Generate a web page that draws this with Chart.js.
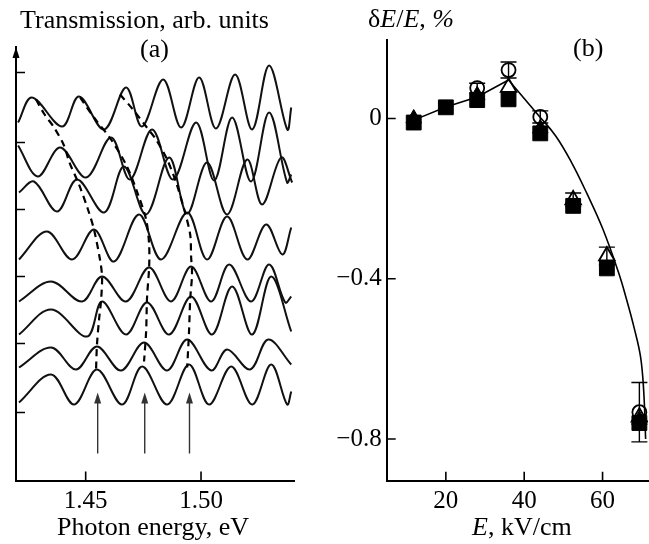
<!doctype html>
<html lang="en"><head>
<meta charset="utf-8"/>
<title>Transmission spectra · δE/E vs E</title>
<script src="https://cdn.jsdelivr.net/npm/chart.js@4.4.6/dist/chart.umd.min.js"></script>
<style>
  body{margin:0;background:#fff}
  #wrap{position:relative;width:649px;height:544px;overflow:hidden;font-family:"Liberation Serif","DejaVu Serif",serif;color:#000}
  canvas{position:absolute;top:0}
  #ca{left:0}
  #cb{left:320px}
  .t{position:absolute;font-size:26px;line-height:26px;white-space:nowrap}
</style></head>
<body>
<div id="wrap">
  <canvas id="ca" width="320" height="544"></canvas>
  <canvas id="cb" width="329" height="544"></canvas>
  <div class="t" style="left:20px;top:7px">Transmission, arb. units</div>
  <div class="t" style="left:140px;top:36px">(a)</div>
  <div class="t" style="left:57px;top:514px">Photon energy, eV</div>
  <div class="t" style="left:368px;top:6px">δ<i>E</i>/<i>E</i>, <i>%</i></div>
  <div class="t" style="left:573px;top:35px">(b)</div>
  <div class="t" style="left:472px;top:514px"><i>E</i>, kV/cm</div>
</div>
<script>
// ---- panel (a): transmission spectra, photon energy (eV) vs arb. units
const c1E=[1.4207,1.4267,1.4398,1.4471,1.4580,1.4675,1.4744,1.4836,1.4914,1.4992,1.5065,1.5148,1.5222,1.5295,1.5374,1.5391];
const c1T=[358,383,354,384,351,393,354,401,353,403,352,406,351,415,351,373];
const c2E=[1.4207,1.4293,1.4389,1.4502,1.4610,1.4692,1.4788,1.4879,1.4979,1.5057,1.5135,1.5217,1.5295,1.5373,1.5391];
const c2T=[335,304,333,303,343,301,351,301,358,300,363,299,368,298,306];
const c3E=[1.4211,1.4276,1.4376,1.4463,1.4580,1.4666,1.4762,1.4862,1.4940,1.5026,1.5113,1.5200,1.5265,1.5347,1.5395];
const c3T=[288,299,269,301,268,314,266,323,267,318,266,321,276,323,298];
const c4E=[1.4211,1.4332,1.4441,1.4536,1.4623,1.4731,1.4827,1.4940,1.5026,1.5113,1.5200,1.5282,1.5352,1.5391];
const c4T=[221,249,221,251,219,266,221,268,221,264,221,256,226,253];
const c5E=[1.4211,1.4350,1.4484,1.4571,1.4675,1.4775,1.4870,1.4957,1.5044,1.5122,1.5217,1.5295,1.5365,1.5391];
const c5T=[179,199,179,204,179,213,179,214,179,216,179,216,178,184];
const c6E=[1.4211,1.4350,1.4506,1.4571,1.4675,1.4766,1.4862,1.4957,1.5048,1.5135,1.5222,1.5304,1.5391];
const c6T=[146,171,144,179,146,178,146,184,146,194,146,204,149];
const c7E=[1.4211,1.4350,1.4458,1.4549,1.4653,1.4753,1.4853,1.4940,1.5044,1.5113,1.5213,1.5291,1.5391];
const c7T=[113,133,111,134,110,138,110,141,110,131,111,141,116];
const c8E=[1.4211,1.4350,1.4450,1.4549,1.4658,1.4745,1.4853,1.4948,1.5035,1.5131,1.5222,1.5304,1.5373,1.5391];
const c8T=[78,106,76,111,76,114,76,116,76,114,76,116,76,89];
// dashed guides through the shifting peaks
const d1E=[1.4285,1.4319,1.4363,1.4406,1.4428,1.4471,1.4510,1.4536,1.4562,1.4571,1.4567,1.4558,1.4549,1.4545];
const d1T=[381,367,353,335,319,296,271,251,221,204,181,161,136,111];
const d2E=[1.4476,1.4536,1.4610,1.4679,1.4727,1.4762,1.4775,1.4775,1.4766,1.4762,1.4753];
const d2T=[383,363,341,314,286,261,236,213,183,149,119];
const d3E=[1.4649,1.4705,1.4762,1.4805,1.4853,1.4892,1.4927,1.4953,1.4957,1.4961,1.4953,1.4948,1.4940];
const d3T=[386,371,354,341,321,298,271,246,224,206,181,149,113];
// arrows under the spectra
const arrE=[1.4552,1.4756,1.4950];
const arrFrom=27, arrTo=88;
const aTickE=[1.45,1.50];
const aTickT=[68,137,204,271,338,408];

// ---- panel (b): deltaE/E (%) vs field E (kV/cm)
const sqE=[11.8,20,28,36,44.1,52.5,61.1,69.4];
const sqV=[-0.01,0.028,0.046,0.048,-0.037,-0.218,-0.374,-0.76];
const ftE=[11.8,28,44.1,69.4];
const ftV=[0.0,0.058,-0.025,-0.752];
const otE=[36,52.5,61.1,69.4];
const otV=[0.078,-0.203,-0.343,-0.745];
const otErr=[0,0.017,0.022,0];
const ciE=[28,36,44.1,69.4];
const ciV=[0.076,0.121,0.004,-0.733];
const ciErr=[0.012,0.02,0.015,0.074];
const riseE=[11.8,20,28,36];
const riseV=[-0.004,0.029,0.054,0.096];
const fitE=[36,40,44,48,52,56,60,64,66.2,68,69.7,70.5,71.0];
const fitV=[0.096,0.05,0.004,-0.043,-0.108,-0.187,-0.274,-0.382,-0.454,-0.52,-0.595,-0.68,-0.80];
const bTickE=[20,40,60];
const bTickV=[0,-0.4,-0.8];

const FONT={family:'"Liberation Serif", serif',size:25};
const TICK=9, INK='#000';
const pts=(xs,ys)=>xs.map((x,i)=>({x,y:ys[i]}));

// inward tick marks on both axes, from the scales' own ticks
const inTicks={
  id:'inTicks',
  afterDraw(chart){
    const {ctx,chartArea:a,scales:{x,y}}=chart;
    ctx.save();ctx.strokeStyle=INK;ctx.lineWidth=1.6;ctx.beginPath();
    x.ticks.forEach(t=>{const p=x.getPixelForValue(t.value);ctx.moveTo(p,a.bottom);ctx.lineTo(p,a.bottom-TICK);});
    y.ticks.forEach(t=>{const p=y.getPixelForValue(t.value);ctx.moveTo(a.left,p);ctx.lineTo(a.left+TICK,p);});
    ctx.stroke();ctx.restore();
  }
};
// axis arrow + vertical arrows for panel (a)
const arrowsA={
  id:'arrowsA',
  afterDraw(chart){
    const {ctx,chartArea:a,scales:{x,y}}=chart;
    ctx.save();
    ctx.fillStyle=INK;ctx.beginPath();
    ctx.moveTo(a.left,a.top);ctx.lineTo(a.left-3.5,a.top+11);ctx.lineTo(a.left+3.5,a.top+11);ctx.closePath();ctx.fill();
    ctx.strokeStyle='#333';ctx.fillStyle='#333';ctx.lineWidth=1.4;
    arrE.forEach(e=>{
      const px=x.getPixelForValue(e),y0=y.getPixelForValue(arrFrom),y1=y.getPixelForValue(arrTo);
      ctx.beginPath();ctx.moveTo(px,y0);ctx.lineTo(px,y1+8);ctx.stroke();
      ctx.beginPath();ctx.moveTo(px,y1);ctx.lineTo(px-3.5,y1+11);ctx.lineTo(px+3.5,y1+11);ctx.closePath();ctx.fill();
    });
    ctx.restore();
  }
};
// vertical error bars with caps for panel (b)
const errBars={
  id:'errBars',
  afterDatasetsDraw(chart){
    const {ctx,scales:{x,y}}=chart;
    ctx.save();ctx.strokeStyle=INK;ctx.lineWidth=1.4;
    chart.data.datasets.forEach(ds=>{
      if(!ds.errs)return;
      ds.data.forEach((p,j)=>{
        const e=ds.errs[j];if(!e)return;
        const px=x.getPixelForValue(p.x),t=y.getPixelForValue(p.y+e),b=y.getPixelForValue(p.y-e);
        ctx.beginPath();ctx.moveTo(px,t);ctx.lineTo(px,b);
        ctx.moveTo(px-8,t);ctx.lineTo(px+8,t);ctx.moveTo(px-8,b);ctx.lineTo(px+8,b);ctx.stroke();
      });
    });
    ctx.restore();
  }
};

const spectra=[[c1E,c1T],[c2E,c2T],[c3E,c3T],[c4E,c4T],[c5E,c5T],[c6E,c6T],[c7E,c7T],[c8E,c8T]];
const guides=[[d1E,d1T],[d2E,d2T],[d3E,d3T]];

new Chart(document.getElementById('ca'),{
  type:'line',
  data:{datasets:[
    ...guides.map(([e,t])=>({data:pts(e,t),borderColor:INK,borderWidth:2.2,borderDash:[7,5],pointRadius:0,tension:0.3})),
    ...spectra.map(([e,t])=>({data:pts(e,t),borderColor:'#111',borderWidth:2,pointRadius:0,tension:0.35}))
  ]},
  options:{
    responsive:false,animation:false,devicePixelRatio:1,
    layout:{autoPadding:false,padding:{top:47,right:26,left:0,bottom:0}},
    plugins:{legend:{display:false},tooltip:{enabled:false}},
    scales:{
      x:{type:'linear',min:1.4198,max:1.5403,
        grid:{display:false,drawTicks:false},border:{display:true,color:INK,width:2},
        afterBuildTicks:s=>{s.ticks=aTickE.map(v=>({value:v}));},
        afterFit:s=>{s.height=63.5;},
        ticks:{color:INK,font:FONT,padding:6,maxRotation:0,callback:v=>v.toFixed(2)}},
      y:{type:'linear',min:0,max:433.5,
        grid:{display:false,drawTicks:false},border:{display:true,color:INK,width:2},
        afterBuildTicks:s=>{s.ticks=aTickT.map(v=>({value:v}));},
        afterFit:s=>{s.width=16;},
        ticks:{display:false}}
    }
  },
  plugins:[inTicks,arrowsA]
});

new Chart(document.getElementById('cb'),{
  type:'scatter',
  data:{datasets:[
    {data:pts(ciE,ciV),errs:ciErr,pointStyle:'circle',pointRadius:7,borderWidth:1.8,borderColor:INK,backgroundColor:'rgba(255,255,255,0)'},
    {data:pts(otE,otV),errs:otErr,pointStyle:'triangle',pointRadius:9,borderWidth:1.8,borderColor:INK,backgroundColor:'rgba(255,255,255,0)'},
    {data:pts(ftE,ftV),pointStyle:'triangle',pointRadius:9,borderWidth:1,borderColor:INK,backgroundColor:INK},
    {data:pts(sqE,sqV),pointStyle:'rect',pointRadius:10.5,borderWidth:1,borderColor:INK,backgroundColor:INK},
    {type:'line',data:pts(riseE,riseV),borderColor:INK,borderWidth:1.6,pointRadius:0,tension:0},
    {type:'line',data:pts(fitE,fitV),borderColor:INK,borderWidth:1.6,pointRadius:0,tension:0.4}
  ]},
  options:{
    responsive:false,animation:false,devicePixelRatio:1,
    layout:{autoPadding:false,padding:{top:40,right:1,left:0,bottom:0}},
    plugins:{legend:{display:false},tooltip:{enabled:false}},
    scales:{
      x:{type:'linear',min:4.9,max:71.6,
        grid:{display:false,drawTicks:false},border:{display:true,color:INK,width:2},
        afterBuildTicks:s=>{s.ticks=bTickE.map(v=>({value:v}));},
        afterFit:s=>{s.height=63.3;},
        ticks:{color:INK,font:FONT,padding:6,maxRotation:0}},
      y:{type:'linear',min:-0.904,max:0.196,
        grid:{display:false,drawTicks:false},border:{display:true,color:INK,width:2},
        afterBuildTicks:s=>{s.ticks=bTickV.map(v=>({value:v}));},
        afterFit:s=>{s.width=66.7;},
        ticks:{color:INK,font:FONT,padding:5,callback:v=>v===0?'0':String(v).replace('-','\u2212')}}
    }
  },
  plugins:[inTicks,errBars]
});
</script>
</body></html>
